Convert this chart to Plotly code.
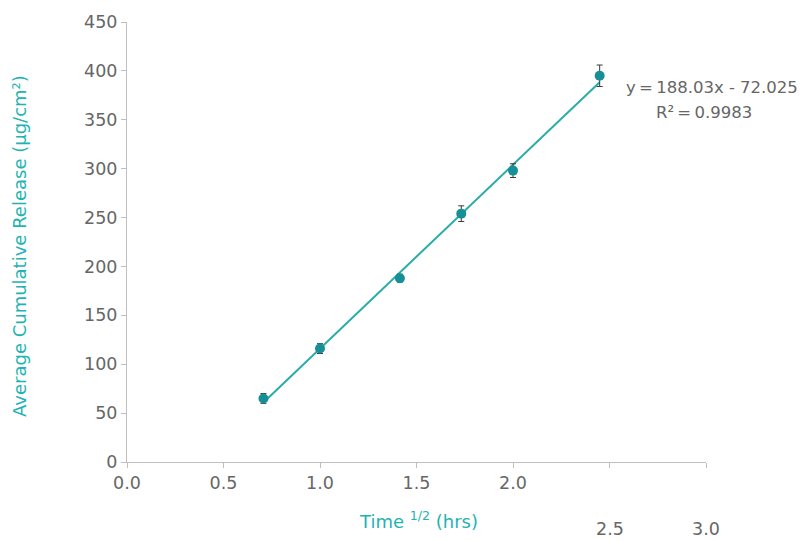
import numpy as np
import plotly.graph_objects as go

time_sqrt = [0.707, 1.0, 1.414, 1.732, 2.0, 2.449]
release = [65, 116, 188, 254, 298, 395]
release_err = [5, 5, 4, 8, 7, 11]
slope, intercept = 188.03, -72.025
x_ticks = [0.0, 0.5, 1.0, 1.5, 2.0]
x_tick_text = ["0.0", "0.5", "1.0", "1.5", "2.0"]
x_low_ticks = [2.5, 3.0]
y_ticks = [0, 50, 100, 150, 200, 250, 300, 350, 400, 450]

FONT = "DejaVu Sans"
TEAL = "#1FB3B3"
GRAY = "#666666"
L, R, T, B = 127, 95, 18, 79
PW, PH = 801 - L - R, 541 - T - B

fig = go.Figure()
fit_x = [time_sqrt[0], time_sqrt[-1]]
fit_y = [slope * v + intercept for v in fit_x]
fig.add_trace(go.Scatter(x=fit_x, y=fit_y, mode="lines",
                         line=dict(color="#2AACA8", width=2), hoverinfo="skip"))
fig.add_trace(go.Scatter(x=time_sqrt, y=release, mode="markers",
                         marker=dict(color="#178F97", size=10),
                         error_y=dict(type="data", array=release_err, color="#3A3A3A",
                                      thickness=1, width=3)))

fig.update_layout(
    width=801, height=541,
    margin=dict(l=L, r=R, t=T, b=B),
    plot_bgcolor="white", paper_bgcolor="white",
    showlegend=False,
    font=dict(family=FONT, color=GRAY, size=17),
    xaxis=dict(range=[0, 3.0], tickvals=x_ticks, ticktext=x_tick_text,
               showgrid=False, zeroline=False, showline=True, linecolor="#BFBFBF",
               ticks="outside", ticklen=5, tickcolor="#BFBFBF",
               minor=dict(tickvals=x_low_ticks, ticks="outside", ticklen=5,
                          tickcolor="#BFBFBF", showgrid=False),
               tickfont=dict(family=FONT, size=17.5, color=GRAY)),
    yaxis=dict(range=[0, 450], tickvals=y_ticks,
               showgrid=False, zeroline=False, showline=True, linecolor="#BFBFBF",
               ticks="outside", ticklen=5, tickcolor="#BFBFBF",
               tickfont=dict(family=FONT, size=17.5, color=GRAY)),
)

fig.add_annotation(text="Average Cumulative Release (µg/cm²)", textangle=-90,
                   xref="paper", yref="paper", x=(20 - L) / PW, y=(462 - 244) / PH,
                   xanchor="center", yanchor="middle",
                   showarrow=False, font=dict(family=FONT, size=18, color=TEAL))
fig.add_annotation(text="Time <sup>1/2</sup> (hrs)", xref="paper", yref="paper",
                   x=(418 - L) / PW, y=-(521 - 462) / PH, xanchor="center", yanchor="middle",
                   showarrow=False, font=dict(family=FONT, size=18, color=TEAL))
for v in x_low_ticks:
    fig.add_annotation(text=f"{v:.1f}", xref="x", yref="paper", x=v, y=-(530 - 462) / PH,
                       xanchor="center", yanchor="middle",
                       showarrow=False, font=dict(family=FONT, size=17.5, color=GRAY))
fig.add_annotation(text="y\u2009=\u2009188.03x - 72.025",
                   xref="paper", yref="paper",
                   x=(624 - L) / PW, y=(462 - 84) / PH, xanchor="left", yanchor="middle",
                   showarrow=False, font=dict(family=FONT, size=16.5, color=GRAY))
fig.add_annotation(text="R²\u2009=\u20090.9983",
                   xref="paper", yref="paper",
                   x=(654 - L) / PW, y=(462 - 109) / PH, xanchor="left", yanchor="middle",
                   showarrow=False, font=dict(family=FONT, size=16.5, color=GRAY))

fig.write_html("out.html")
